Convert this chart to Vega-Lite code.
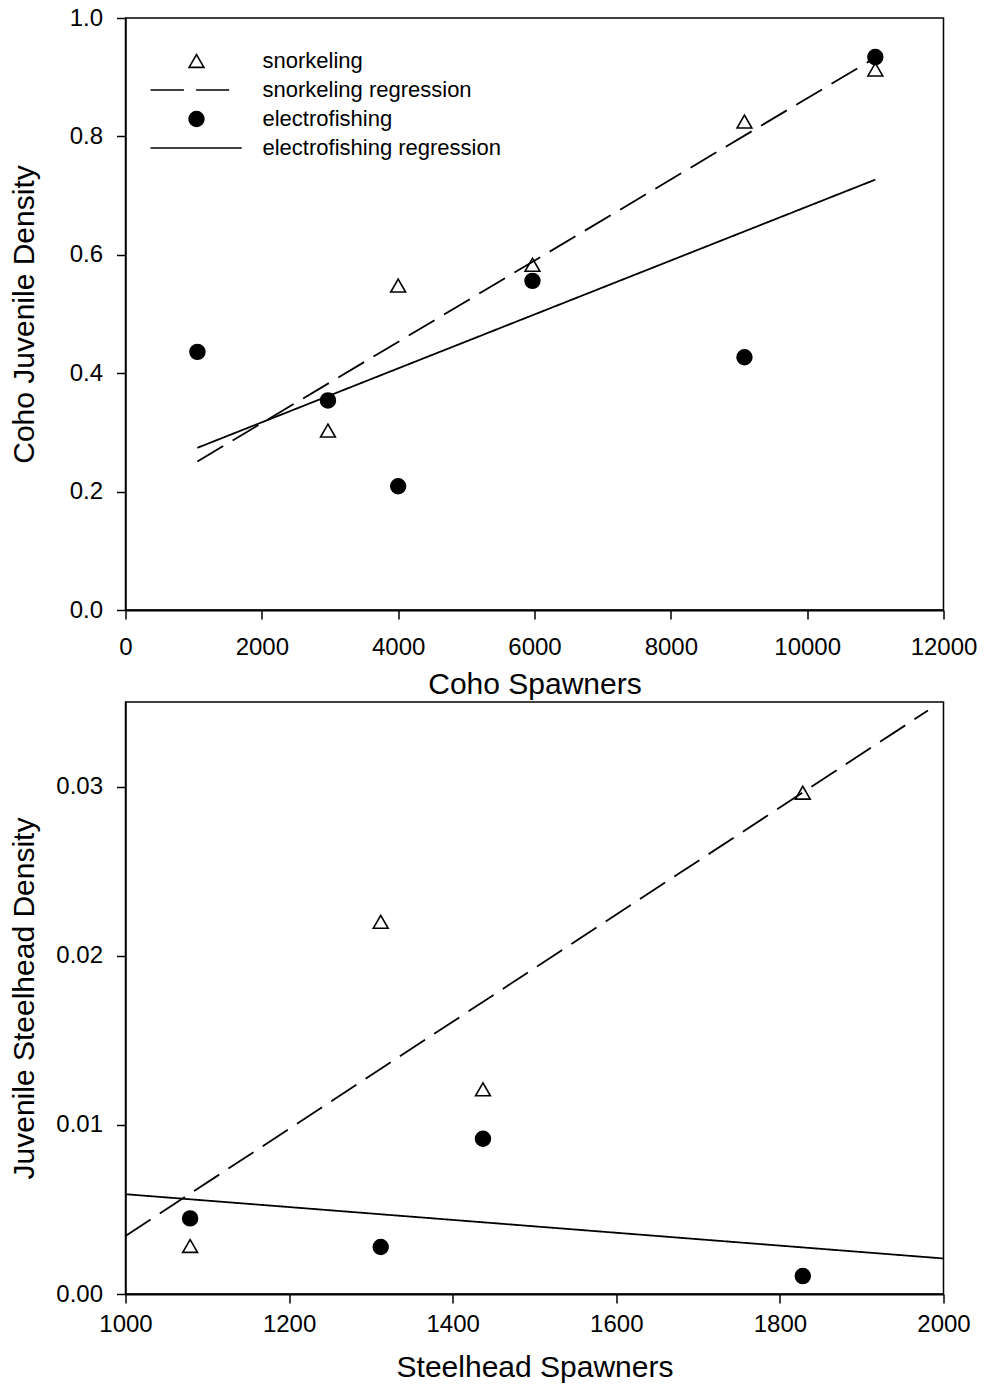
{
  "$schema": "https://vega.github.io/schema/vega-lite/v6.json",
  "background": "white",
  "padding": {"left": 8.5, "top": 5, "right": 0, "bottom": 0},
  "config": {
    "font": "Liberation Sans",
    "view": {"stroke": "black", "strokeWidth": 1.5},
    "axis": {
      "grid": false,
      "domainColor": "black",
      "domainWidth": 1.5,
      "tickColor": "black",
      "tickWidth": 1.5,
      "tickSize": 9,
      "labelColor": "black",
      "titleColor": "black",
      "labelFontSize": 24,
      "titleFontSize": 30,
      "titleFontWeight": "normal",
      "labelFont": "Liberation Sans",
      "titleFont": "Liberation Sans",
      "labelFlush": false,
      "labelOverlap": false
    }
  },
  "datasets": {
    "coho_points": [
      {"series": "snorkeling", "x": 2970, "y": 0.303},
      {"series": "snorkeling", "x": 4000, "y": 0.548},
      {"series": "snorkeling", "x": 5970, "y": 0.583},
      {"series": "snorkeling", "x": 9080, "y": 0.825},
      {"series": "snorkeling", "x": 11000, "y": 0.913},
      {"series": "electrofishing", "x": 1055, "y": 0.436},
      {"series": "electrofishing", "x": 2970, "y": 0.354},
      {"series": "electrofishing", "x": 4000, "y": 0.209},
      {"series": "electrofishing", "x": 5970, "y": 0.556},
      {"series": "electrofishing", "x": 9080, "y": 0.427},
      {"series": "electrofishing", "x": 11000, "y": 0.934}
    ],
    "coho_lines": [
      {"series": "snorkeling regression", "x": 1055, "y": 0.251},
      {"series": "snorkeling regression", "x": 11000, "y": 0.933},
      {"series": "electrofishing regression", "x": 1055, "y": 0.274},
      {"series": "electrofishing regression", "x": 11000, "y": 0.727}
    ],
    "steel_points": [
      {"series": "snorkeling", "x": 1079, "y": 0.00284},
      {"series": "snorkeling", "x": 1312, "y": 0.0220},
      {"series": "snorkeling", "x": 1437, "y": 0.0121},
      {"series": "snorkeling", "x": 1828, "y": 0.02964},
      {"series": "electrofishing", "x": 1079, "y": 0.00447},
      {"series": "electrofishing", "x": 1312, "y": 0.00278},
      {"series": "electrofishing", "x": 1437, "y": 0.00918},
      {"series": "electrofishing", "x": 1828, "y": 0.00106}
    ],
    "steel_lines": [
      {"series": "snorkeling regression", "x": 1000, "y": 0.00343},
      {"series": "snorkeling regression", "x": 1981, "y": 0.0345},
      {"series": "electrofishing regression", "x": 1000, "y": 0.0059},
      {"series": "electrofishing regression", "x": 2000, "y": 0.0021}
    ]
  },
  "spacing": 92,
  "bounds": "flush",
  "vconcat": [
    {
      "width": 818,
      "height": 592,
      "layer": [
        {
          "data": {"name": "coho_lines"},
          "mark": {"type": "line", "color": "black", "strokeWidth": 1.8},
          "encoding": {
            "x": {
              "field": "x", "type": "quantitative",
              "scale": {"domain": [0, 12000], "nice": false, "zero": false},
              "axis": {"values": [0, 2000, 4000, 6000, 8000, 10000, 12000], "format": "d", "title": "Coho Spawners", "labelPadding": 16, "titleY": 83, "titleBaseline": "alphabetic", "domainWidth": 2}
            },
            "y": {
              "field": "y", "type": "quantitative",
              "scale": {"domain": [0, 1], "nice": false},
              "axis": {"values": [0, 0.2, 0.4, 0.6, 0.8, 1.0], "format": ".1f", "title": "Coho Juvenile Density", "labelPadding": 14, "titleX": -92, "titleY": 296, "titleBaseline": "alphabetic", "titleAngle": -90}
            },
            "detail": {"field": "series"},
            "strokeDash": {
              "field": "series", "type": "nominal",
              "scale": {"domain": ["snorkeling regression", "electrofishing regression"], "range": [[30, 11], [1, 0]]},
              "legend": null
            }
          }
        },
        {
          "data": {"name": "coho_points"},
          "mark": {"type": "point", "strokeWidth": 1.6, "size": 220, "opacity": 1},
          "encoding": {
            "x": {"field": "x", "type": "quantitative"},
            "y": {"field": "y", "type": "quantitative"},
            "shape": {
              "field": "series", "type": "nominal",
              "scale": {
                "domain": ["snorkeling", "snorkeling regression", "electrofishing", "electrofishing regression"],
                "range": ["triangle-up", "M-6.2,0H-1.7M-0.05,0H4.4", "circle", "M-6.2,0H6.1"]
              },
              "legend": {
                "title": null, "orient": "none", "legendX": 60, "legendY": 32,
                "labelFontSize": 22, "labelFont": "Liberation Sans", "labelColor": "black", "labelLimit": 500,
                "symbolSize": 220, "symbolStrokeWidth": 1.6,
                "labelOffset": 55, "rowPadding": 7, "padding": 0
              }
            },
            "fill": {
              "field": "series", "type": "nominal",
              "scale": {
                "domain": ["snorkeling", "snorkeling regression", "electrofishing", "electrofishing regression"],
                "range": ["transparent", "transparent", "black", "transparent"]
              },
              "legend": {
                "title": null, "orient": "none", "legendX": 60, "legendY": 32,
                "labelFontSize": 22, "labelFont": "Liberation Sans", "labelColor": "black", "labelLimit": 500,
                "symbolSize": 220, "symbolStrokeWidth": 1.6,
                "labelOffset": 55, "rowPadding": 7, "padding": 0
              }
            },
            "stroke": {
              "field": "series", "type": "nominal",
              "scale": {
                "domain": ["snorkeling", "snorkeling regression", "electrofishing", "electrofishing regression"],
                "range": ["black", "black", "black", "black"]
              },
              "legend": {
                "title": null, "orient": "none", "legendX": 60, "legendY": 32,
                "labelFontSize": 22, "labelFont": "Liberation Sans", "labelColor": "black", "labelLimit": 500,
                "symbolSize": 220, "symbolStrokeWidth": 1.6,
                "labelOffset": 55, "rowPadding": 7, "padding": 0
              }
            }
          }
        }
      ]
    },
    {
      "width": 818,
      "height": 592,
      "layer": [
        {
          "data": {"name": "steel_lines"},
          "mark": {"type": "line", "color": "black", "strokeWidth": 1.8},
          "encoding": {
            "x": {
              "field": "x", "type": "quantitative",
              "scale": {"domain": [1000, 2000], "nice": false, "zero": false},
              "axis": {"values": [1000, 1200, 1400, 1600, 1800, 2000], "format": "d", "title": "Steelhead Spawners", "labelPadding": 9, "titleY": 82, "titleBaseline": "alphabetic", "domainWidth": 2}
            },
            "y": {
              "field": "y", "type": "quantitative",
              "scale": {"domain": [0, 0.035], "nice": false},
              "axis": {"values": [0, 0.01, 0.02, 0.03], "format": ".2f", "title": "Juvenile Steelhead Density", "labelPadding": 14, "titleX": -92, "titleY": 296, "titleBaseline": "alphabetic", "titleAngle": -90}
            },
            "detail": {"field": "series"},
            "strokeDash": {
              "field": "series", "type": "nominal",
              "scale": {"domain": ["snorkeling regression", "electrofishing regression"], "range": [[38, 13], [1, 0]]},
              "legend": null
            }
          }
        },
        {
          "data": {"name": "steel_points"},
          "transform": [{"filter": "datum.series === 'snorkeling'"}],
          "mark": {"type": "point", "shape": "triangle-up", "stroke": "black", "fill": "transparent", "filled": false, "strokeWidth": 1.6, "size": 220, "opacity": 1},
          "encoding": {
            "x": {"field": "x", "type": "quantitative"},
            "y": {"field": "y", "type": "quantitative"}
          }
        },
        {
          "data": {"name": "steel_points"},
          "transform": [{"filter": "datum.series === 'electrofishing'"}],
          "mark": {"type": "point", "shape": "circle", "stroke": "black", "fill": "black", "filled": true, "strokeWidth": 1.6, "size": 220, "opacity": 1},
          "encoding": {
            "x": {"field": "x", "type": "quantitative"},
            "y": {"field": "y", "type": "quantitative"}
          }
        }
      ]
    }
  ],
  "resolve": {"scale": {"x": "independent", "y": "independent"}}
}
